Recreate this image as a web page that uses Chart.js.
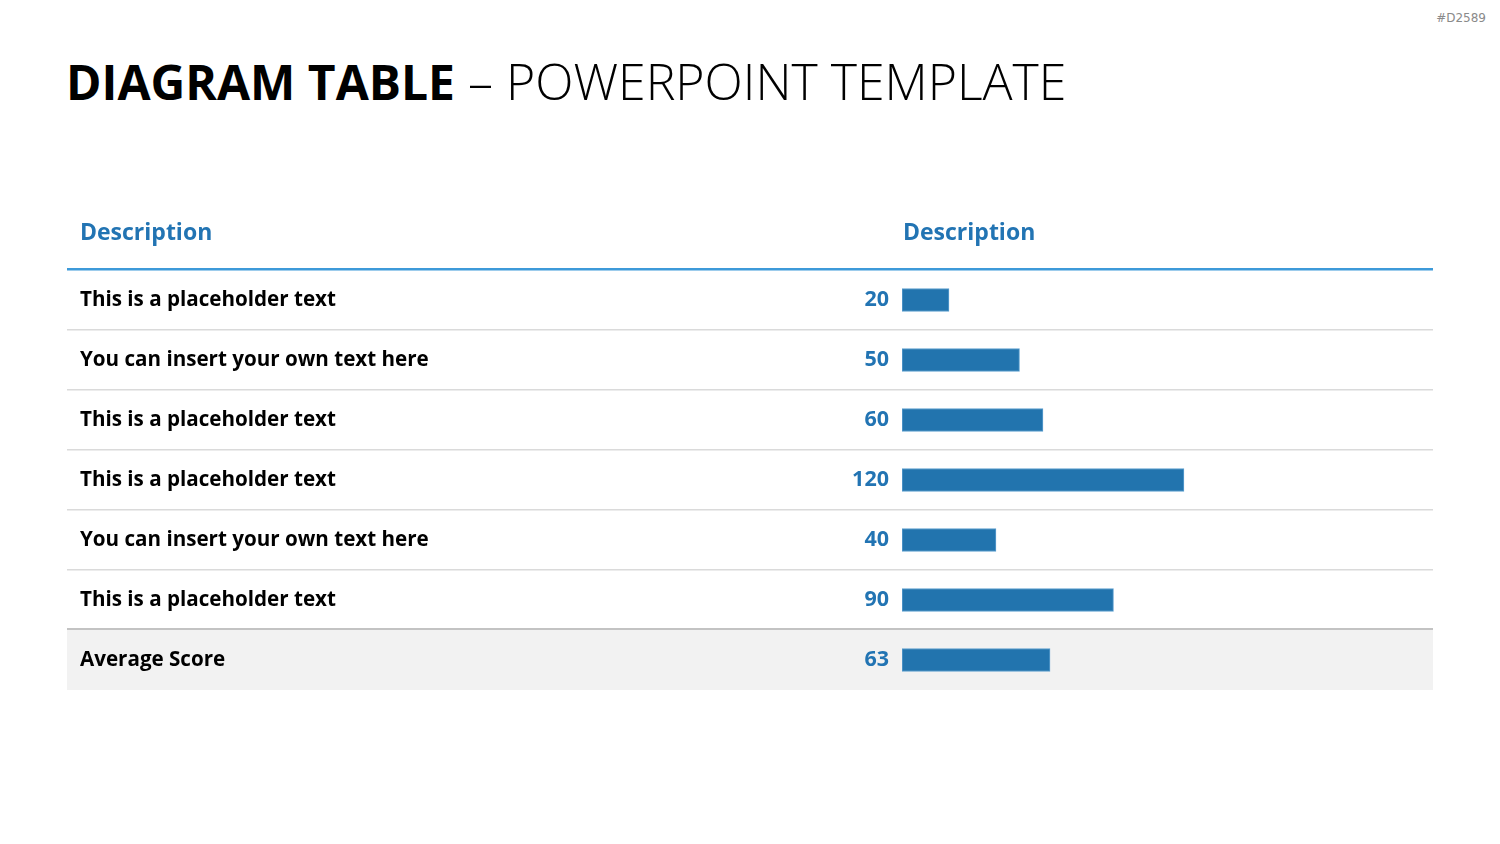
<!DOCTYPE html>
<html>
<head>
<meta charset="utf-8">
<script src="https://cdn.jsdelivr.net/npm/chart.js@4"></script>
<style>
    html, body { margin: 0; padding: 0; background: #fff; }
    #wrap { position: relative; width: 1500px; height: 844px; overflow: hidden; }
    #title {
        position: absolute; left: 66px; top: 52px; margin: 0;
        font-family: 'Open Sans', sans-serif; font-size: 50px; line-height: 58px;
        color: #000; white-space: nowrap; font-weight: 300;
    }
    #title b { font-weight: 700; font-size: 48px; }
    #tag {
        position: absolute; right: 14px; top: 11px;
        font-family: 'DejaVu Sans', sans-serif; font-size: 12px; color: #8a8a8a;
    }
    #chart { position: absolute; left: 0; top: 0; }
</style>
</head>
<body>
<div id="wrap">
    <h1 id="title"><b>DIAGRAM TABLE</b> – POWERPOINT TEMPLATE</h1>
    <div id="tag">#D2589</div>
    <canvas id="chart" width="1500" height="844"></canvas>
</div>
<script>
// Table data
const headers = ['Description', 'Description'];
const rowLabels = [
    'This is a placeholder text',
    'You can insert your own text here',
    'This is a placeholder text',
    'This is a placeholder text',
    'You can insert your own text here',
    'This is a placeholder text',
    'Average Score'
];
const scores = [20, 50, 60, 120, 40, 90, 63];
const scoreLabels = ['20', '50', '60', '120', '40', '90', '63'];

const barBlue = '#2274ae';
const textBlue = '#2274b3';
const labelFont = "bold 20.6px 'Open Sans', sans-serif";
const valueFont = "bold 21.5px 'Open Sans', sans-serif";

// Draws the table around the bars: header, row lines, gray total row, texts
const tablePlugin = {
    id: 'tableLayout',
    beforeDatasetsDraw(chart) {
        const ctx = chart.ctx;
        const area = chart.chartArea;
        const yScale = chart.scales.y;
        const rowH = (area.bottom - area.top) / rowLabels.length;
        const left = 67, right = area.right;

        ctx.save();
        // gray background of the average row
        const lastTop = yScale.getPixelForValue(rowLabels.length - 1) - rowH / 2;
        ctx.fillStyle = '#f2f2f2';
        ctx.fillRect(left, lastTop, right - left, rowH);

        // thin separators
        ctx.fillStyle = '#dadada';
        for (let i = 1; i < rowLabels.length - 1; i++) {
            const y = Math.round(area.top + i * rowH);
            ctx.fillRect(left, y - 1, right - left, 1.5);
        }
        // line above the average row
        ctx.fillStyle = '#c3c3c3';
        ctx.fillRect(left, Math.round(lastTop) - 2, right - left, 2);

        // header line
        ctx.fillStyle = '#3d9ad9';
        ctx.fillRect(left, area.top - 2, right - left, 2.5);

        // header texts
        ctx.fillStyle = textBlue;
        ctx.font = "bold 23px 'Open Sans', sans-serif";
        ctx.textBaseline = 'middle';
        ctx.textAlign = 'left';
        ctx.fillText(headers[0], 80, 233);
        ctx.fillText(headers[1], area.left + 1, 233);
        ctx.restore();
    },
    afterDatasetsDraw(chart) {
        const ctx = chart.ctx;
        const area = chart.chartArea;
        const yScale = chart.scales.y;
        ctx.save();
        ctx.textBaseline = 'middle';
        rowLabels.forEach((label, i) => {
            const y = yScale.getPixelForValue(i);
            ctx.fillStyle = '#000';
            ctx.textAlign = 'left';
            ctx.font = labelFont;
            ctx.fillText(label, 80, y);
            ctx.fillStyle = textBlue;
            ctx.textAlign = 'right';
            ctx.font = valueFont;
            ctx.fillText(scoreLabels[i], area.left - 13, y);
        });
        ctx.restore();
    }
};

new Chart(document.getElementById('chart'), {
    type: 'bar',
    data: {
        labels: rowLabels,
        datasets: [{
            data: scores,
            backgroundColor: barBlue,
            borderColor: '#5d9fd0',
            borderWidth: 1,
            borderSkipped: false,
            barThickness: 23
        }]
    },
    options: {
        indexAxis: 'y',
        responsive: false,
        animation: false,
        layout: {
            padding: { left: 902, right: 67, top: 270, bottom: 154 }
        },
        scales: {
            x: { display: false, min: 0, max: 226 },
            y: { display: false }
        },
        plugins: {
            legend: { display: false },
            tooltip: { enabled: false }
        }
    },
    plugins: [tablePlugin]
});
</script>
</body>
</html>
